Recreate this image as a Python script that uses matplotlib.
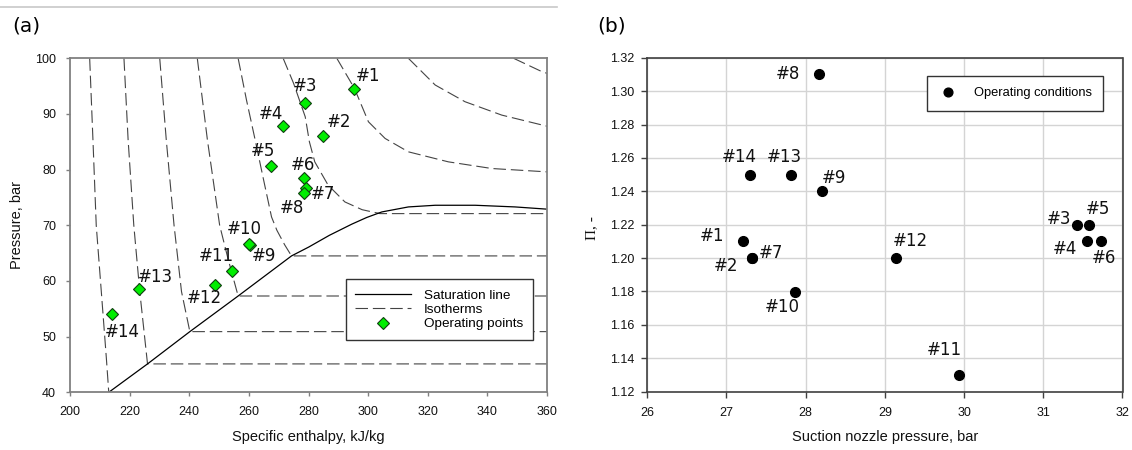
import matplotlib
matplotlib.use('Agg')
import matplotlib.pyplot as plt
from matplotlib.lines import Line2D

plt.rcParams['lines.scale_dashes'] = False
plt.rcParams['font.family'] = ['Liberation Sans', 'DejaVu Sans']

# ---------------- Panel (a) data ----------------
op_labels = ['#1', '#2', '#3', '#4', '#5', '#6', '#7', '#8', '#9', '#10', '#11', '#12', '#13', '#14']
op_h = [295.1, 284.7, 278.8, 271.5, 267.3, 278.5, 279.2, 278.5, 260.4, 260.0, 254.4, 248.8, 223.1, 214.0]
op_p = [94.45, 86.1, 92.0, 87.9, 80.7, 78.5, 76.7, 75.8, 66.5, 66.7, 61.8, 59.3, 58.5, 54.0]

sat_h = [213.0, 226.0, 240.2, 256.4, 274.3, 280.1, 287.0, 294.5, 299.5, 304.6, 313.5, 322.5, 335.9, 349.3, 360.0]
sat_p = [40.0, 45.1, 50.9, 57.3, 64.5, 66.1, 68.2, 70.2, 71.4, 72.4, 73.3, 73.6, 73.6, 73.3, 72.9]

iso05_h = [206.6, 207.7, 208.8, 210.5, 212.2, 213.0]
iso05_p = [100, 85.3, 70, 58.1, 46.1, 40.0]
iso10_h = [218.1, 219.5, 221.4, 223.4, 226.0, 360]
iso10_p = [100, 85.3, 70, 58.1, 45.1, 45.1]
iso15_h = [230.1, 232.3, 234.9, 237.4, 240.2, 360]
iso15_p = [100, 85.3, 70, 58.1, 50.9, 50.9]
iso20_h = [242.7, 246.1, 250.2, 253.0, 256.4, 360]
iso20_p = [100, 85.3, 70, 64.0, 57.3, 57.3]
iso25_h = [256.4, 259.2, 262.0, 265.0, 267.6, 269.4, 272.0, 274.3, 360]
iso25_p = [100, 92.5, 85.6, 78.0, 71.5, 69.1, 66.5, 64.5, 64.5]
iso30_h = [271.5, 275.0, 278.9, 280.3, 282.1, 286.6, 292.2, 298.0, 304.0, 360]
iso30_p = [100, 95.5, 89.5, 85.0, 81.4, 77.2, 74.2, 72.8, 72.1, 72.1]
iso35_h = [289.5, 295.4, 300.1, 305.7, 313.5, 326.9, 341.5, 360]
iso35_p = [100, 94.6, 88.6, 85.6, 83.2, 81.4, 80.2, 79.6]
iso40_h = [313.5, 322.5, 332.5, 344.8, 360]
iso40_p = [100, 95.2, 92.2, 89.8, 87.8]
iso45_h = [348.8, 358.3, 360]
iso45_p = [100, 97.6, 97.3]

# ---------------- Panel (b) data ----------------
b_labels = ['#1', '#2', '#3', '#4', '#5', '#6', '#7', '#8', '#9', '#10', '#11', '#12', '#13', '#14']
b_x = [27.21, 27.32, 31.42, 31.55, 31.58, 31.73, 27.32, 28.17, 28.21, 27.87, 29.94, 29.14, 27.82, 27.30]
b_y = [1.21, 1.20, 1.22, 1.21, 1.22, 1.21, 1.20, 1.31, 1.24, 1.18, 1.13, 1.20, 1.25, 1.25]

# label offsets (pixels, layout only)
a_off = [(14, 12.7), (16.7, 13.7), (0, 17), (-12.3, 12), (-7.3, 15), (-1.3, 13.3), (17.3, -6.3),
         (-11.7, -15.3), (14, -11), (-4.3, 15), (-15.7, 15), (-10.7, -12.7), (16, 12.7), (10.7, -17.3)]
b_off = [(-30.7, 5.7), (-26, -8.3), (-18, 6), (-21.7, -8), (8.3, 15.3), (3, -16.7), (18.6, 5),
         (-31.7, 0), (11.7, 13.7), (-12.7, -15), (-15.3, 25), (14.3, 16.7), (-7.3, 18), (-11, 18)]

DPI = 100
PX = 72.0 / DPI
fig = plt.figure(figsize=(11.32, 4.5), dpi=DPI)

label_font = dict(family=['DejaVu Sans'], size=12, color='#111111')

# ---------------- Panel (a) ----------------
axa = fig.add_axes([70 / 1132, 1 - 392.3 / 450, 477 / 1132, 334 / 450])
iso_style = dict(color='#444444', lw=0.8, linestyle=(0, (9, 3.5)))
isos = [(iso05_h, iso05_p), (iso10_h, iso10_p), (iso15_h, iso15_p), (iso20_h, iso20_p),
        (iso25_h, iso25_p), (iso30_h, iso30_p), (iso35_h, iso35_p), (iso40_h, iso40_p),
        (iso45_h, iso45_p)]
for hh, pp in isos:
    axa.plot(hh, pp, **iso_style)
axa.plot(sat_h, sat_p, color='black', lw=0.9)
axa.plot(op_h, op_p, linestyle='none', marker='D', ms=6.5, mfc='#00ee00', mec='#104010', mew=0.8,
         zorder=5)
for lab, h, p, (dx, dy) in zip(op_labels, op_h, op_p, a_off):
    axa.annotate(lab, xy=(h, p), xytext=(dx * PX, dy * PX), textcoords='offset points',
                 ha='center', va='center', zorder=6, **label_font)

axa.set_xlim(200, 360)
axa.set_ylim(40, 100)
axa.set_xticks(range(200, 361, 20))
axa.set_yticks(range(40, 101, 10))
for s in axa.spines.values():
    s.set_color('#808080')
    s.set_linewidth(1.3)
axa.tick_params(direction='out', length=3, width=1, color='#808080', labelsize=9, pad=7,
                labelcolor='#111111')
axa.set_xlabel('Specific enthalpy, kJ/kg', fontsize=10.5, color='#111111')
axa.xaxis.set_label_coords(0.5, -0.134)
axa.xaxis.label.set_va('center')
axa.set_ylabel('Pressure, bar', fontsize=10.5, color='#111111')
axa.yaxis.set_label_coords(-0.111, 0.5)
axa.yaxis.label.set_va('center')

handles = [Line2D([], [], color='black', lw=0.9),
           Line2D([], [], **iso_style),
           Line2D([], [], linestyle='none', marker='D', ms=6.5, mfc='#00ee00', mec='#104010', mew=0.8)]
leg = axa.legend(handles, ['Saturation line', 'Isotherms', 'Operating points'],
                 loc='upper left', bbox_to_anchor=(0.578, 0.338), fontsize=9.7,
                 frameon=True, fancybox=False, framealpha=1, edgecolor='#333333',
                 handlelength=4.1, handletextpad=1.0, labelspacing=0.15, borderpad=0.72,
                 borderaxespad=0)
leg.get_frame().set_linewidth(1.0)

# ---------------- Panel (b) ----------------
axb = fig.add_axes([647.3 / 1132, 1 - 391.7 / 450, 475.2 / 1132, 334 / 450])
axb.set_axisbelow(True)
axb.grid(True, color='#d4d4d4', lw=1.0)
axb.plot(b_x, b_y, linestyle='none', marker='o', ms=7, color='black', label='Operating conditions',
         zorder=5)
for lab, x, y, (dx, dy) in zip(b_labels, b_x, b_y, b_off):
    axb.annotate(lab, xy=(x, y), xytext=(dx * PX, dy * PX), textcoords='offset points',
                 ha='center', va='center', zorder=6, **label_font)
axb.set_xlim(26, 32)
axb.set_ylim(1.12, 1.32)
axb.set_xticks(range(26, 33))
axb.set_yticks([1.12 + 0.02 * i for i in range(11)])
axb.yaxis.set_major_formatter(matplotlib.ticker.FormatStrFormatter('%.2f'))
for s in axb.spines.values():
    s.set_color('#404040')
    s.set_linewidth(1.2)
axb.tick_params(direction='out', length=4, width=1, color='#404040', labelsize=9, pad=5,
                labelcolor='#111111')
axb.tick_params(axis='x', pad=7)
axb.set_xlabel('Suction nozzle pressure, bar', fontsize=10.5, color='#111111')
axb.xaxis.set_label_coords(0.5, -0.135)
axb.xaxis.label.set_va('center')
axb.set_ylabel('Π, -', fontsize=11, color='#111111', family=['Liberation Serif', 'DejaVu Serif'])
axb.yaxis.set_label_coords(-0.116, 0.49)
axb.yaxis.label.set_va('center')
legb = axb.legend(loc='upper left', bbox_to_anchor=((927 - 647.3) / 475.2, (391.7 - 75.7) / 334),
                  fontsize=9.3, frameon=True, fancybox=False, framealpha=1, edgecolor='#333333',
                  handlelength=1.5, handletextpad=1.2, borderpad=0.9, borderaxespad=0,
                  markerscale=0.9)
legb.get_frame().set_linewidth(1.0)

# ---------------- panel letters and top rule ----------------
fig.text(12 / 1132, 1 - 26 / 450, '(a)', fontsize=14.5, family=['DejaVu Sans'], va='center', ha='left')
fig.text(597 / 1132, 1 - 26 / 450, '(b)', fontsize=14.5, family=['DejaVu Sans'], va='center', ha='left')
fig.add_artist(Line2D([0, 557 / 1132], [1 - 6.5 / 450, 1 - 6.5 / 450], color='#c8c8c8', lw=1.2))

fig.savefig('out.png', dpi=DPI)
